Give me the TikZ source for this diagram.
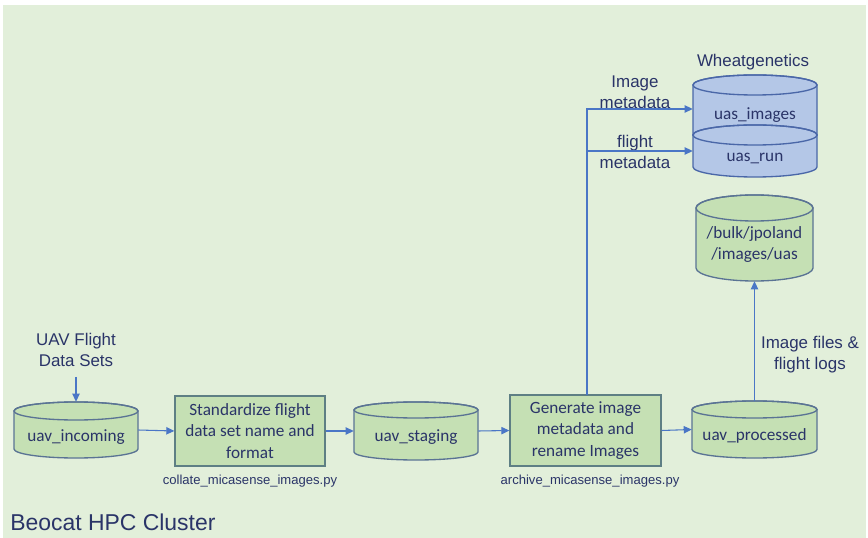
\documentclass[tikz,border=0pt]{standalone}
\usepackage{fontspec}
\setmainfont{Liberation Sans}
\newfontfamily\carl{Carlito}
\usetikzlibrary{arrows.meta}

\definecolor{bgc}{HTML}{E2EFDA}
\definecolor{grfill}{HTML}{C5E0B4}
\definecolor{grline}{HTML}{5A7394}
\definecolor{boxline}{HTML}{5E7F84}
\definecolor{blfill}{HTML}{B4C7E7}
\definecolor{blline}{HTML}{4A67A8}
\definecolor{arrc}{HTML}{4A76C6}
\definecolor{txtc}{HTML}{2A3468}

\begin{document}
\begin{tikzpicture}[x=0.75pt,y=-0.75pt,
  greendrum/.style={fill=grfill,draw=grline,line width=1pt},
  bluedrum/.style={fill=blfill,draw=blline,line width=1pt},
  procbox/.style={draw=boxline,fill=grfill,line width=1pt,
    inner sep=0pt,align=center,text=txtc,
    font=\carl\fontsize{12.9}{16}\selectfont},
  anchorbox/.style={inner sep=0pt},
  drumtext/.style={text=txtc,font=\carl\fontsize{12.9}{16}\selectfont,align=center,inner sep=0pt},
  lbl/.style={text=txtc,font=\fontsize{12.7}{15.75}\selectfont,align=center,inner sep=0pt},
  caption/.style={text=txtc,font=\fontsize{9.8}{12}\selectfont,inner sep=0pt},
  arr/.style={draw=arrc,line width=0.8pt,-{Triangle[length=6pt,width=5.5pt]}}]

\useasboundingbox (0,0) rectangle (868,538);
\fill[bgc] (3,5) rectangle (866,538);

% ---- green drums along the pipeline ----
\path[greendrum] (14,411) -- (14,449)
  arc[start angle=180,end angle=360,x radius=46.5pt,y radius=6.75pt] -- (138,411)
  arc[start angle=0,end angle=180,x radius=46.5pt,y radius=6.75pt] -- cycle;
\draw[greendrum,fill=none] (76,411) ellipse[x radius=46.5pt,y radius=6.75pt];
\node[anchorbox,minimum width=124*0.75pt,minimum height=56*0.75pt] (inc) at (76,430) {};
\node[drumtext] (inctext) at (76,437) {uav\_incoming};

\path[greendrum] (354,410) -- (354,452)
  arc[start angle=180,end angle=360,x radius=46.5pt,y radius=6pt] -- (478,410)
  arc[start angle=0,end angle=180,x radius=46.5pt,y radius=6pt] -- cycle;
\draw[greendrum,fill=none] (416,410) ellipse[x radius=46.5pt,y radius=6pt];
\node[anchorbox,minimum width=124*0.75pt,minimum height=58*0.75pt] (stg) at (416,431) {};
\node[drumtext] (stgtext) at (416,437) {uav\_staging};

\path[greendrum] (692,409.5) -- (692,449.5)
  arc[start angle=180,end angle=360,x radius=46.875pt,y radius=6.375pt] -- (817,409.5)
  arc[start angle=0,end angle=180,x radius=46.875pt,y radius=6.375pt] -- cycle;
\draw[greendrum,fill=none] (754.5,409.5) ellipse[x radius=46.875pt,y radius=6.375pt];
\node[anchorbox,minimum width=125*0.75pt,minimum height=57*0.75pt] (proc) at (754.5,429.5) {};
\node[drumtext] (proctext) at (754.5,436) {uav\_processed};

\path[greendrum] (696,208) -- (696,268)
  arc[start angle=180,end angle=360,x radius=43.875pt,y radius=9.75pt] -- (813,208)
  arc[start angle=0,end angle=180,x radius=43.875pt,y radius=9.75pt] -- cycle;
\draw[greendrum,fill=none] (754.5,208) ellipse[x radius=43.875pt,y radius=9.75pt];
\node[anchorbox,minimum width=117*0.75pt,minimum height=86*0.75pt] (bulk) at (754.5,238) {};
\node[drumtext] (bulktext) at (754.5,244.5) {/bulk/jpoland\\[0.4pt]/images/uas};

% ---- blue Wheatgenetics database ----
\path[bluedrum] (693,85) -- (693,135)
  arc[start angle=180,end angle=360,x radius=46.5pt,y radius=7.5pt] -- (817,85)
  arc[start angle=0,end angle=180,x radius=46.5pt,y radius=7.5pt] -- cycle;
\draw[bluedrum,fill=none] (755,85) ellipse[x radius=46.5pt,y radius=7.5pt];
\node[anchorbox,minimum width=124*0.75pt,minimum height=68*0.75pt] (uasimg) at (755,109) {};
\node[drumtext] (uasimgtext) at (755,115) {uas\_images};

\path[bluedrum] (693,135) -- (693,167)
  arc[start angle=180,end angle=360,x radius=46.5pt,y radius=7.5pt] -- (817,135)
  arc[start angle=0,end angle=180,x radius=46.5pt,y radius=7.5pt] -- cycle;
\draw[bluedrum,fill=none] (755,135) ellipse[x radius=46.5pt,y radius=7.5pt];
\node[anchorbox,minimum width=124*0.75pt,minimum height=52*0.75pt] (uasrun) at (755,151) {};
\node[drumtext] (uasruntext) at (755,158) {uas\_run};

\node[lbl] (wheat) at (753,62) {Wheatgenetics};

% ---- processing steps ----
\node[procbox,minimum width=150*0.75pt,minimum height=70*0.75pt] (std) at (250,431)
  {Standardize flight\\data set name and\\format};
\node[procbox,minimum width=151*0.75pt,minimum height=71*0.75pt] (gen) at (585.5,430.5)
  {Generate image\\metadata and\\rename Images};

\node[caption] (collate) at (250,481) {collate\_micasense\_images.py};
\node[caption] (archive) at (590,481) {archive\_micasense\_images.py};

% ---- labels ----
\node[lbl] (flightsets) at (76,350) {UAV Flight\\Data Sets};
\node[lbl] (imgmeta) at (635,92) {Image\\metadata};
\node[lbl] (fltmeta) at (635,152) {flight\\metadata};
\node[lbl] (filelogs) at (810,355) {Image files \&\\flight logs};
\node[text=txtc,font=\fontsize{17.2}{20}\selectfont,inner sep=0pt,anchor=west] (beocat)
  at (10,522) {Beocat HPC Cluster};

% ---- connectors ----
\coordinate (flightfoot) at (76,377);
\draw[arr] (flightfoot) -- (inc.north);
\draw[arr] (inc.east) -- (std.west);
\draw[arr] (std.east) -- (stg.west);
\draw[arr] (stg.east) -- (gen.west);
\draw[arr] (gen.east) -- (proc.west);
\draw[arr] (proc.north) -- (bulk.south);
\coordinate (riser) at (587,395);
\draw[arr] (riser) |- (uasimg.west);
\draw[arr] (riser) |- (uasrun.west);

\end{tikzpicture}
\end{document}
